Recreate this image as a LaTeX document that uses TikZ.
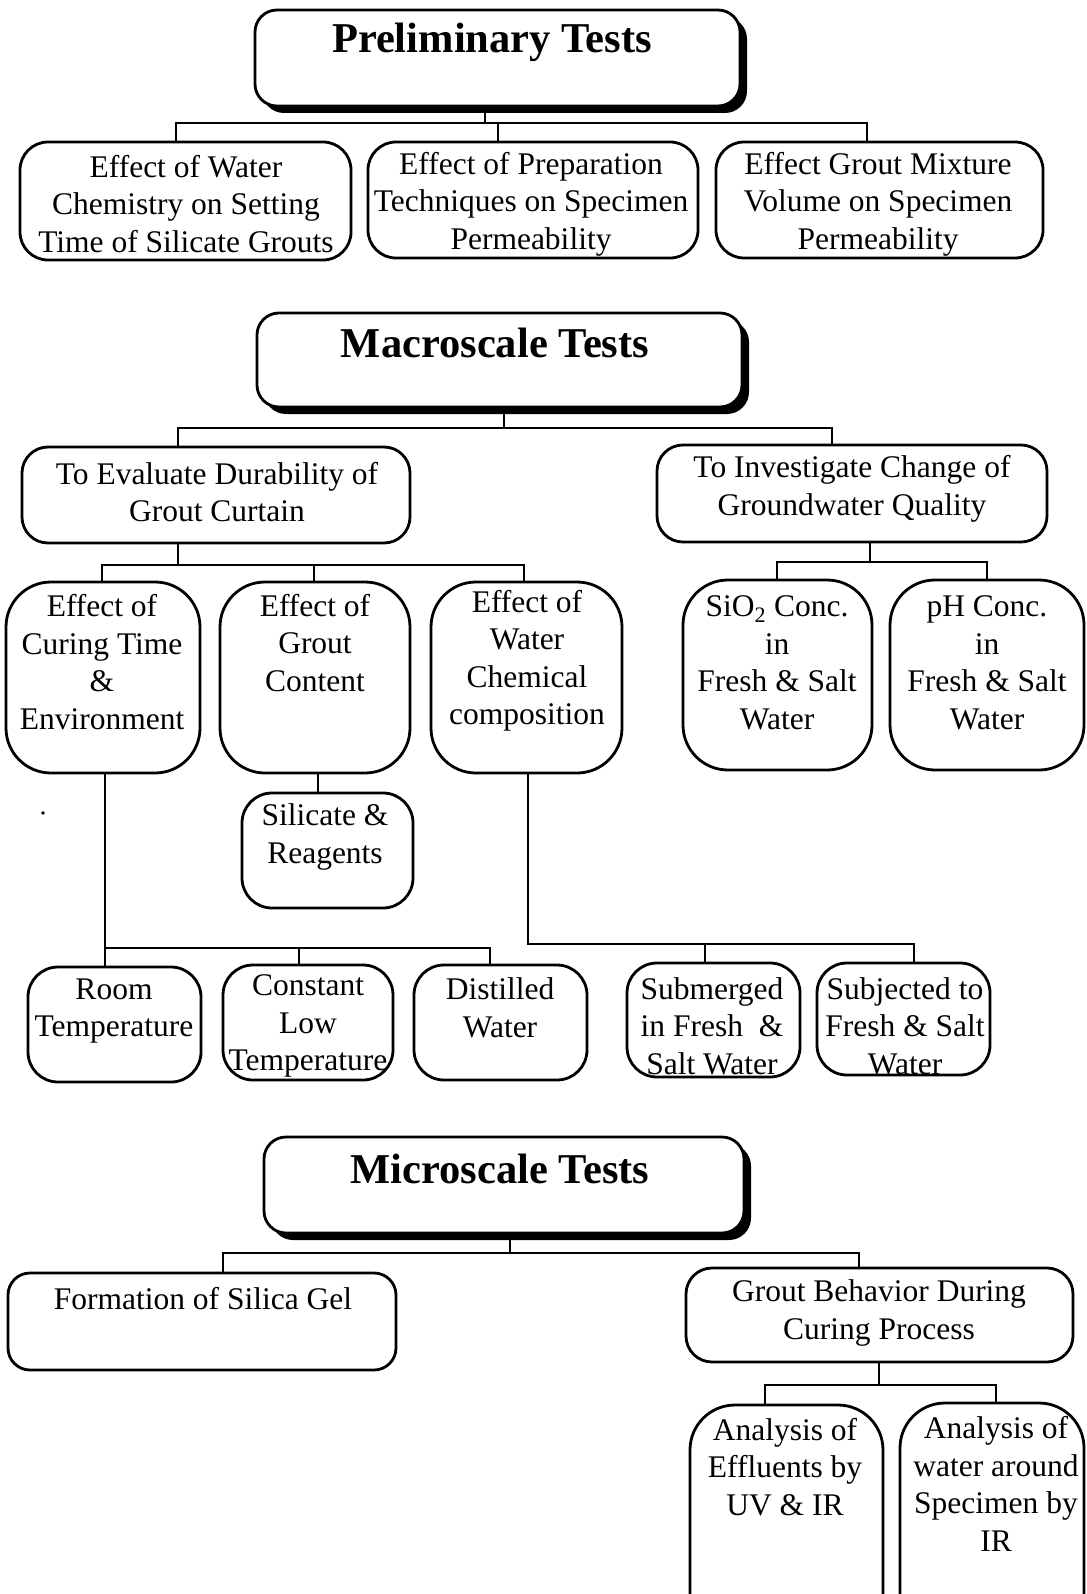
\documentclass[tikz,border=0pt]{standalone}
\usepackage{fontspec}
\setmainfont{Liberation Serif}
\tikzset{
 bx/.style={draw, line width=2.8pt, fill=white, inner sep=0pt, outer sep=0pt},
 conn/.style={line width=2.6pt},
 txt/.style={align=center, inner sep=0pt, font=\fontsize{31.5}{37.5}\selectfont},
 hdr/.style={inner sep=0pt, anchor=base, font=\fontsize{42.5}{50}\selectfont\bfseries},
}
\newcommand\mkbox[6]{\node[bx, rounded corners=#6pt, minimum width={(#4-#2)*1pt}, minimum height={(#5-#3)*1pt}] (#1) at ({(#2+#4)/2},{(#3+#5)/2}) {};}
\newcommand\mkshadow[5]{\fill[rounded corners=#5pt] ({#1+7},{#2+7}) rectangle ({#3+7},{#4+7});}
\begin{document}
\begin{tikzpicture}[x=1pt,y=-1pt]
\useasboundingbox (0,0) rectangle (1086,1594);
\clip (0,0) rectangle (1086,1594);
\fill[white] (0,0) rectangle (1086,1594);
% ---------- Preliminary
\mkshadow{255}{10}{740}{106}{22}
\mkbox{P}{255}{10}{740}{106}{22}
\node[hdr] (Pt) at (492,53) {Preliminary Tests};
\mkbox{p1}{20}{142}{351}{260}{28}
\mkbox{p2}{368}{142}{698}{258}{28}
\mkbox{p3}{716}{142}{1043}{258}{28}
\node[txt] (p1t) at (186,204) {Effect of Water\\Chemistry on Setting\\Time of Silicate Grouts};
\node[txt] (p2t) at (531,204) {Effect of Preparation\\Techniques on Specimen\\Permeability};
\node[txt] (p3t) at (878,204) {Effect Grout Mixture\\Volume on Specimen\\Permeability};
\coordinate (j1) at (485,123);
\draw[conn] (P.south -| j1) -- (j1);
\draw[conn] (p1.north -| 176,0) -- (176,123) -- (867,123) -- (p3.north -| 867,0);
\draw[conn] (498,123) -- (p2.north -| 498,0);
% ---------- Macroscale
\mkshadow{257}{313}{742}{407}{22}
\mkbox{M}{257}{313}{742}{407}{22}
\node[hdr] (Mt) at (495,357) {Macroscale Tests};
\mkbox{ev}{22}{447}{410}{543}{26}
\mkbox{inv}{657}{445}{1047}{542}{26}
\node[txt] (evt) at (217,492) {To Evaluate Durability of\\Grout Curtain};
\node[txt] (invt) at (852,489) {To Investigate Change of\\Groundwater Quality};
\coordinate (j2) at (504,428);
\draw[conn] (M.south -| j2) -- (j2);
\draw[conn] (ev.north -| 178,0) -- (178,428) -- (832,428) -- (inv.north -| 832,0);
% level 2
\mkbox{cur}{6}{582}{200}{773}{45}
\mkbox{gc}{220}{582}{410}{773}{45}
\mkbox{wc}{431}{582}{622}{773}{45}
\mkbox{si}{683}{580}{872}{770}{45}
\mkbox{ph}{890}{580}{1084}{770}{45}
\node[txt] (curt) at (102,662) {Effect of\\Curing Time\\\&\\Environment};
\node[txt] (gct) at (315,643) {Effect of\\Grout\\Content};
\node[txt] (wct) at (527,661) {Effect of\\Water\\Chemical\\composition};
\node[txt] (sit) at (777,663) {SiO\textsubscript{2} Conc.\\in\\Fresh \& Salt\\Water};
\node[txt] (pht) at (987,663) {pH Conc.\\in\\Fresh \& Salt\\Water};
\coordinate (j3) at (178,565);
\draw[conn] (ev.south -| j3) -- (j3);
\draw[conn] (cur.north -| 102,0) -- (102,565) -- (524,565) -- (wc.north -| 524,0);
\draw[conn] (314,565) -- (gc.north -| 314,0);
\coordinate (j4) at (870,562);
\draw[conn] (inv.south -| j4) -- (j4);
\draw[conn] (si.north -| 777,0) -- (777,562) -- (987,562) -- (ph.north -| 987,0);
% level 3
\mkbox{sil}{242}{793}{413}{908}{30}
\node[txt] (silt) at (325,837) {Silicate \&\\Reagents};
\draw[conn] (gc.south -| 318,0) -- (sil.north -| 318,0);
\fill (43,813) circle (1.8);
\mkbox{room}{28}{967}{201}{1082}{30}
\mkbox{clt}{223}{965}{393}{1080}{30}
\mkbox{dis}{414}{965}{587}{1080}{30}
\mkbox{sub}{627}{963}{800}{1077}{30}
\mkbox{sbj}{817}{963}{990}{1075}{30}
\node[txt] (roomt) at (114,1011) {Room\\Temperature};
\node[txt] (cltt) at (308,1026) {Constant\\Low\\Temperature};
\node[txt] (dist) at (500,1008) {Distilled\\Water};
\node[txt] (subt) at (712,1026) {Submerged\\in Fresh \ \&\\Salt Water};
\node[txt] (sbjt) at (905,1026) {Subjected to\\Fresh \& Salt\\Water};
\draw[conn] (cur.south -| 105,0) -- (105,948) -- (490,948) -- (dis.north -| 490,0);
\draw[conn] (105,948) -- (room.north -| 105,0);
\draw[conn] (299,948) -- (clt.north -| 299,0);
\draw[conn] (wc.south -| 528,0) -- (528,944) -- (914,944) -- (sbj.north -| 914,0);
\draw[conn] (705,944) -- (sub.north -| 705,0);
% ---------- Microscale
\mkshadow{264}{1137}{744}{1233}{22}
\mkbox{Mi}{264}{1137}{744}{1233}{22}
\node[hdr] (Mit) at (500,1183) {Microscale Tests};
\mkbox{form}{8}{1273}{396}{1370}{22}
\mkbox{gb}{686}{1268}{1073}{1362}{26}
\node[txt] (formt) at (203,1299) {Formation of Silica Gel};
\node[txt] (gbt) at (879,1313) {Grout Behavior During\\Curing Process};
\coordinate (j5) at (510,1253);
\draw[conn] (Mi.south -| j5) -- (j5);
\draw[conn] (form.north -| 223,0) -- (223,1253) -- (859,1253) -- (gb.north -| 859,0);
\mkbox{a1}{690}{1405}{883}{1650}{45}
\mkbox{a2}{900}{1403}{1084}{1650}{45}
\node[txt] (a1t) at (785,1467) {Analysis of\\Effluents by\\UV \& IR};
\node[txt] (a2t) at (996,1484) {Analysis of\\water around\\Specimen by\\IR};
\coordinate (j6) at (879,1385);
\draw[conn] (gb.south -| j6) -- (j6);
\draw[conn] (a1.north -| 765,0) -- (765,1385) -- (996,1385) -- (a2.north -| 996,0);
\end{tikzpicture}
\end{document}
